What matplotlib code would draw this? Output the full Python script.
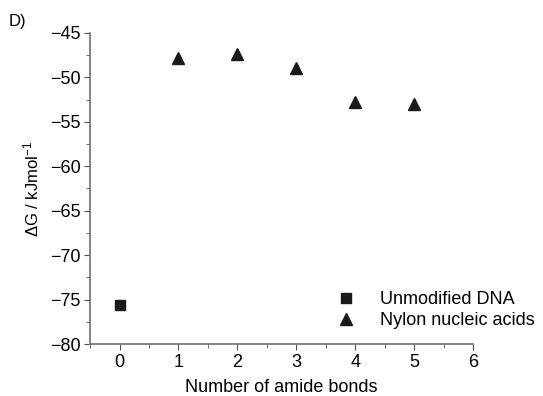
import matplotlib.pyplot as plt
from matplotlib.ticker import MultipleLocator

plt.rcParams['font.family'] = ['Liberation Sans', 'DejaVu Sans']
plt.rcParams['mathtext.fontset'] = 'custom'
plt.rcParams['mathtext.rm'] = 'Liberation Sans'
plt.rcParams['mathtext.it'] = 'Liberation Sans:italic'

# данные
dna_x = [0]
dna_y = [-75.6]
nna_x = [1, 2, 3, 4, 5]
nna_y = [-47.8, -47.4, -49.0, -52.8, -53.0]

fig = plt.figure(figsize=(5.43, 3.96), dpi=100)
ax = fig.add_axes([0.166, 0.131, 0.705, 0.786])

ax.plot(dna_x, dna_y, 's', color='#1a1a1a', markersize=7, label='Unmodified DNA')
ax.plot(nna_x, nna_y, '^', color='#1a1a1a', markersize=8, label='Nylon nucleic acids')

ax.set_xlim(-0.5, 6)
ax.set_ylim(-80, -45)
ax.xaxis.set_major_locator(MultipleLocator(1))
ax.xaxis.set_minor_locator(MultipleLocator(0.5))
ax.yaxis.set_major_locator(MultipleLocator(5))
ax.yaxis.set_minor_locator(MultipleLocator(2.5))

for s in ['top', 'right']:
    ax.spines[s].set_visible(False)
for s in ['left', 'bottom']:
    ax.spines[s].set_color('#707070')
    ax.spines[s].set_linewidth(1.2)
ax.tick_params(which='both', direction='out', color='#505050', labelsize=13, pad=3)
ax.tick_params(which='major', length=4)
ax.tick_params(which='minor', length=3)

ax.set_xlabel('Number of amide bonds', fontsize=13, labelpad=6)
ax.set_ylabel(r'$\mathit{Δ}$G / kJmol$^{-1}$', fontsize=12, labelpad=6)
fig.text(0.015, 0.935, 'D)', fontsize=12)

ax.legend(loc='lower right', frameon=False, fontsize=13, handletextpad=0.9,
          bbox_to_anchor=(1.205, -0.005), labelspacing=0.25)

fig.savefig('out.png', dpi=100)
